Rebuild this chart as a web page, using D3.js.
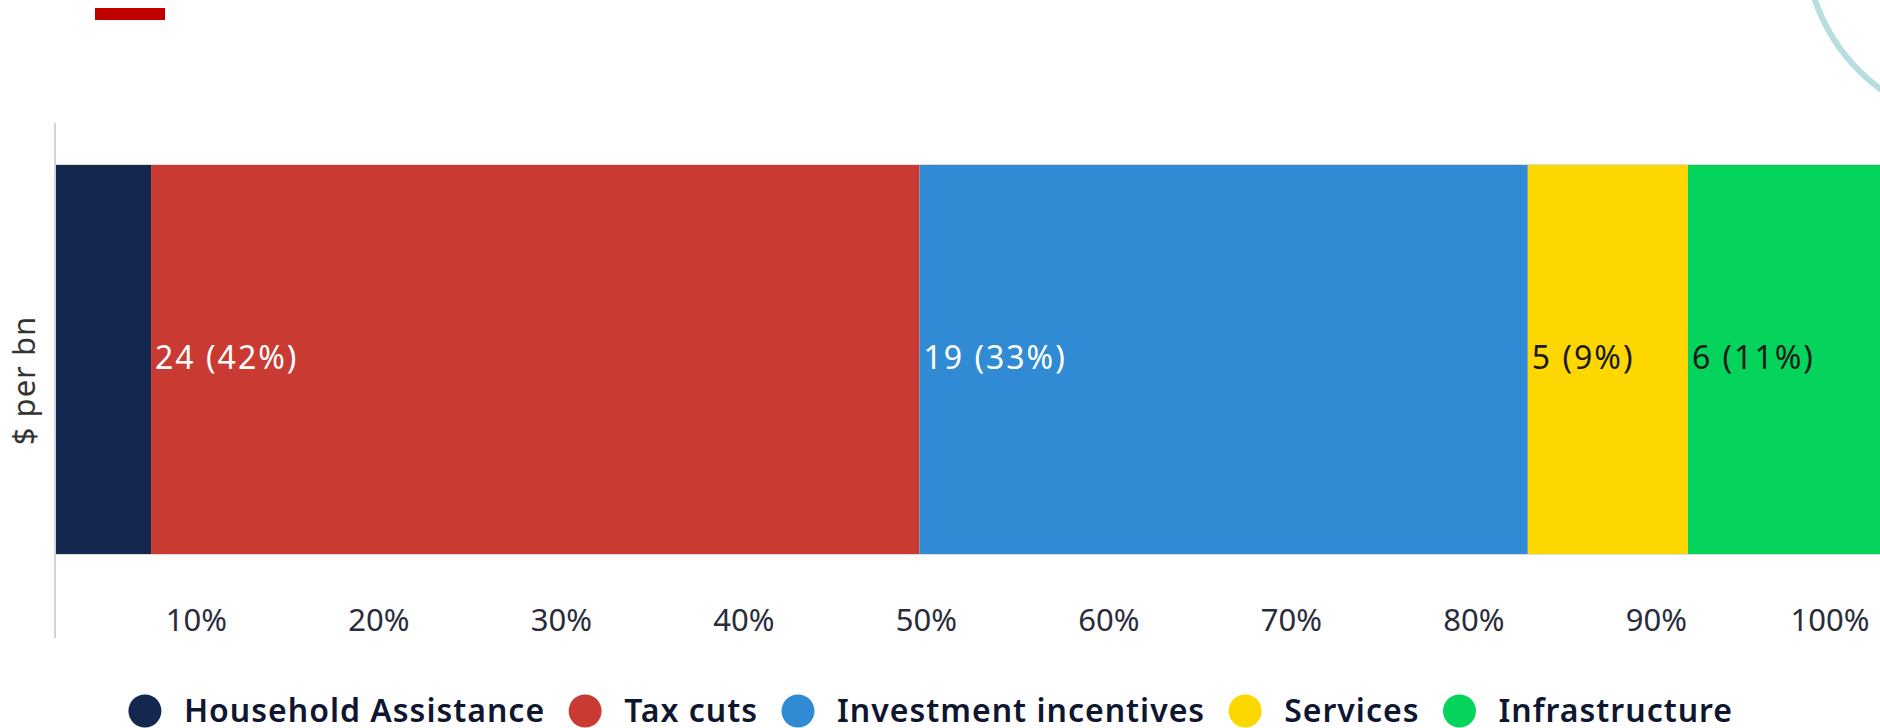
<!DOCTYPE html>
<html>
<head>
<meta charset="utf-8">
<script src="https://cdn.jsdelivr.net/npm/d3@7"></script>
<style>
  body { margin: 0; background: #fff; }
  svg { display: block; font-family: "Noto Sans", sans-serif; }
</style>
</head>
<body>
<div id="chart"></div>
<script>
// data
const categories = ["Household Assistance", "Tax cuts", "Investment incentives", "Services", "Infrastructure"]
const values = [3, 24, 19, 5, 6]
const colors = ["#14274f", "#c93a32", "#318bd4", "#ffd700", "#04d45b"]
const labelColors = ["#ffffff", "#ffffff", "#ffffff", "#1a1a1a", "#1a1a1a"]
const rowLabel = "$ per bn"
const tickValues = [0.1, 0.2, 0.3, 0.4, 0.5, 0.6, 0.7, 0.8, 0.9, 1.0]

const W = 1880, H = 728
const total = d3.sum(values)

let acc = 0
const segs = values.map((v, i) => {
  const s = { name: categories[i], value: v, x0: acc / total, x1: (acc + v) / total, i }
  acc += v
  return s
})

const svg = d3.select("#chart").append("svg")
  .attr("width", W).attr("height", H)
  .attr("viewBox", `0 0 ${W} ${H}`)

// decoration
svg.append("rect").attr("x", 95).attr("y", 8).attr("width", 70).attr("height", 12).attr("fill", "#c00000")
svg.append("circle").attr("cx", 1990).attr("cy", -60).attr("r", 185)
  .attr("fill", "none").attr("stroke", "#b7dde1").attr("stroke-width", 6)

// SCALES ----------------------
const x = d3.scaleLinear().domain([0, 1]).range([55, W])
const y = d3.scaleBand().domain([rowLabel]).range([165, 554])

// band edge lines
svg.selectAll("line.edge").data([y(rowLabel), y(rowLabel) + y.bandwidth()])
  .join("line").attr("class", "edge")
  .attr("x1", x(0)).attr("x2", x(1))
  .attr("y1", d => d).attr("y2", d => d)
  .attr("stroke", "#dcdcdc").attr("stroke-width", 2)

// BARS ------------------------
svg.selectAll("rect.bar").data(segs)
  .join("rect").attr("class", "bar")
  .attr("x", d => x(d.x0))
  .attr("y", y(rowLabel))
  .attr("width", d => x(d.x1) - x(d.x0))
  .attr("height", y.bandwidth())
  .attr("fill", d => colors[d.i])

// value labels
const lab = svg.selectAll("text.val").data(segs)
  .join("text").attr("class", "val")
  .attr("x", d => x(d.x0) + 4)
  .attr("y", y(rowLabel) + y.bandwidth() / 2)
  .attr("dy", "0.3em")
  .attr("font-size", 32)
  .attr("letter-spacing", 2)
  .attr("fill", d => labelColors[d.i])
  .text(d => `${d.value} (${Math.round(d.value / total * 100)}%)`)
lab.each(function (d) {
  if (this.getComputedTextLength() > x(d.x1) - x(d.x0) - 6) d3.select(this).remove()
})

// AXES ------------------------
const gX = svg.append("g").attr("transform", "translate(0, 600)")
gX.call(d3.axisBottom(x).tickValues(tickValues).tickFormat(d3.format(".0%")).tickSize(0).tickPadding(9))
gX.select(".domain").remove()
gX.selectAll("text")
  .attr("text-anchor", "end")
  .attr("dx", -11)
  .attr("font-family", "Noto Sans")
  .attr("font-size", 31)
  .attr("fill", "#2a2c3c")

svg.append("line")
  .attr("x1", 55).attr("x2", 55).attr("y1", 123).attr("y2", 638)
  .attr("stroke", "#d4d4d4").attr("stroke-width", 2)

svg.append("text")
  .attr("transform", `translate(35, ${y(rowLabel) + y.bandwidth() / 2 + 21}) rotate(-90)`)
  .attr("text-anchor", "middle")
  .attr("font-size", 31)
  .attr("letter-spacing", 1)
  .attr("fill", "#333")
  .text(rowLabel)

// LEGEND ----------------------
const legend = svg.append("g")
const items = legend.selectAll("g").data(categories).join("g")
items.append("circle").attr("r", 16.5).attr("cx", 16).attr("cy", 711)
  .attr("fill", (d, i) => colors[i])
items.append("text")
  .attr("x", 55).attr("y", 711).attr("dy", "0.34em")
  .attr("font-size", 32).attr("font-weight", 600)
  .attr("letter-spacing", 1)
  .attr("fill", "#0e1630")
  .text(d => d)

let pos = 0
items.each(function () {
  const g = d3.select(this)
  g.attr("transform", `translate(${pos},0)`)
  pos += 55 + g.select("text").node().getComputedTextLength() + 24
})
const legendW = pos - 24
legend.attr("transform", `translate(${931 - legendW / 2},0)`)
</script>
</body>
</html>
